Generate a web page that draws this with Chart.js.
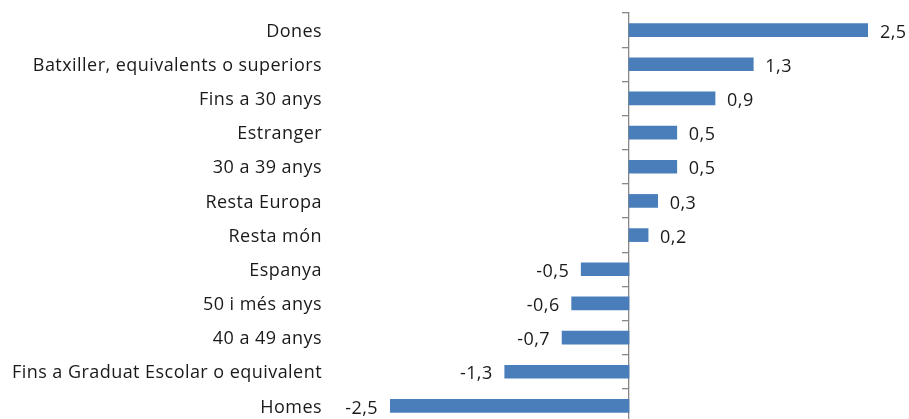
<!DOCTYPE html>
<html>
<head>
<meta charset="utf-8">
<script src="https://cdn.jsdelivr.net/npm/chart.js@4"></script>
<style>
  html, body { margin: 0; padding: 0; background: #fff; overflow: hidden; }
  canvas { display: block; }
</style>
</head>
<body>
<canvas id="chart" width="909" height="430"></canvas>
<script>
const categories = [
  "Dones",
  "Batxiller, equivalents o superiors",
  "Fins a 30 anys",
  "Estranger",
  "30 a 39 anys",
  "Resta Europa",
  "Resta món",
  "Espanya",
  "50 i més anys",
  "40 a 49 anys",
  "Fins a Graduat Escolar o equivalent",
  "Homes"
];
const values = [2.5, 1.3, 0.9, 0.5, 0.5, 0.3, 0.2, -0.5, -0.6, -0.7, -1.3, -2.5];

const FONT = "'Open Sans', sans-serif";
const TEXT = "#1a1a1a";
const SPACING = "0.45px";

// a bit of letter spacing, the original text is quite loose
const spacing = {
  id: "spacing",
  beforeLayout(chart) { chart.ctx.letterSpacing = SPACING; },
  beforeDraw(chart) { chart.ctx.letterSpacing = SPACING; }
};

// value labels next to the end of each bar
const valueLabels = {
  id: "valueLabels",
  afterDatasetsDraw(chart) {
    const ctx = chart.ctx;
    const meta = chart.getDatasetMeta(0);
    ctx.save();
    ctx.letterSpacing = SPACING;
    ctx.font = "18px " + FONT;
    ctx.fillStyle = TEXT;
    ctx.textBaseline = "middle";
    meta.data.forEach((bar, i) => {
      const v = values[i];
      const txt = v.toFixed(1).replace(".", ",");
      if (v >= 0) {
        ctx.textAlign = "left";
        ctx.fillText(txt, bar.x + 12, bar.y + 2.5);
      } else {
        ctx.textAlign = "right";
        ctx.fillText(txt, bar.x - 12, bar.y + 2.5);
      }
    });
    ctx.restore();
  }
};

new Chart(document.getElementById("chart").getContext("2d"), {
  type: "bar",
  data: {
    labels: categories,
    datasets: [{
      data: values,
      backgroundColor: "#4a7ebb",
      borderWidth: 0,
      barThickness: 13
    }]
  },
  options: {
    indexAxis: "y",
    responsive: false,
    animation: false,
    layout: { padding: { left: 0, right: 41, top: 13, bottom: 7 } },
    plugins: {
      legend: { display: false },
      tooltip: { enabled: false }
    },
    scales: {
      x: {
        display: false,
        min: -2.5,
        max: 2.5
      },
      y: {
        position: "left",
        afterFit: (scale) => {
          scale.width = 390;
          scale.paddingTop = 0;
          scale.paddingBottom = 0;
        },
        grid: { display: false, drawTicks: false },
        border: { display: false },
        ticks: {
          padding: 68,
          labelOffset: 1.5,
          color: TEXT,
          font: { family: FONT, size: 18 }
        }
      },
      yAxis0: {
        axis: "y",
        type: "category",
        position: { x: 0 },
        labels: categories,
        offset: true,
        afterFit: (scale) => { scale.width = 0; },
        grid: {
          offset: true,
          drawOnChartArea: false,
          drawTicks: true,
          tickLength: 6,
          color: "#888888",
          lineWidth: 1.3
        },
        border: { display: true, color: "#888888", width: 1.3 },
        ticks: { display: false }
      }
    }
  },
  plugins: [spacing, valueLabels]
});
</script>
</body>
</html>
